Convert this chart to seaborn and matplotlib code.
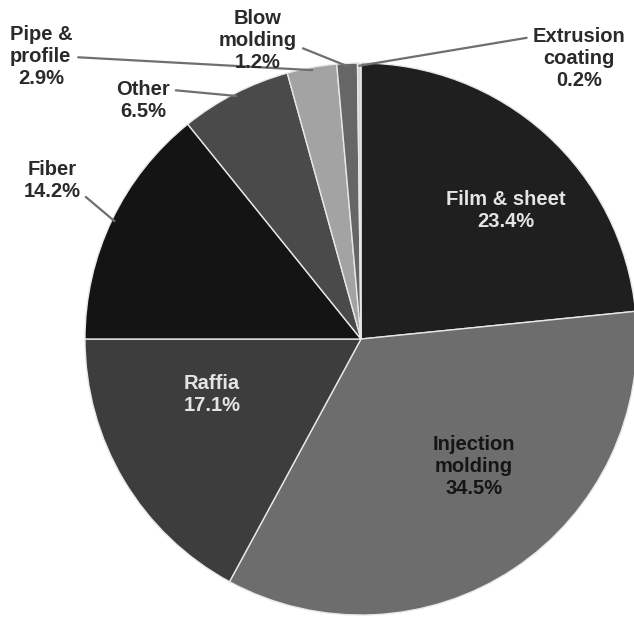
import matplotlib
matplotlib.use("Agg")
import numpy as np
import matplotlib.pyplot as plt
import seaborn as sns

# Données : parts de marché par application
categories = ["Film & sheet", "Injection\nmolding", "Raffia", "Fiber", "Other",
              "Pipe &\nprofile", "Blow\nmolding", "Extrusion\ncoating"]
shares = [23.4, 34.5, 17.1, 14.2, 6.5, 2.9, 1.2, 0.2]

sns.set_theme(style="white")
plt.rcParams['font.family'] = ['Liberation Sans', 'DejaVu Sans']

grays = ["#1f1f1f", "#6d6d6d", "#3d3d3d", "#141414", "#4a4a4a",
         "#a3a3a3", "#666666", "#d6d6d6"]

fig = plt.figure(figsize=(6.34, 6.24), dpi=100)
ax = fig.add_axes([0.134, 0.0144, 0.8707, 0.8846])

wedges, _ = ax.pie(shares, colors=grays, startangle=90, counterclock=False,
                   wedgeprops=dict(edgecolor="#e8e8e8", linewidth=1))
ax.set_xlim(-1, 1)
ax.set_ylim(-1, 1)
ax.set_aspect("equal")
ax.axis("off")

# position du texte (coord. données), couleur, point de départ de la ligne
label_pos = [(0.525, 0.467), (0.41, -0.463), (-0.54, -0.2), (-1.12, 0.576),
             (-0.79, 0.866), (-1.16, 1.022), (-0.373, 1.08), (0.79, 1.015)]
label_col = ["#e4e4e4", "#151515", "#e4e4e4", "#2a2a2a", "#2a2a2a",
             "#2a2a2a", "#2a2a2a", "#2a2a2a"]
inside = [True, True, True, False, False, False, False, False]
relpos = [None, None, None, (1, 0.2), (1, 0.75), (1, 0.5), (1, 0.42), (0, 0.85)]

for i, w in enumerate(wedges):
    txt = f"{categories[i]}\n{shares[i]}%"
    if inside[i]:
        ax.text(*label_pos[i], txt, ha="center", va="center", fontsize=14.5,
                fontweight="bold", color=label_col[i], linespacing=1.2)
    else:
        mid = np.deg2rad((w.theta1 + w.theta2) / 2)
        ax.annotate(txt, xy=(0.99 * np.cos(mid), 0.99 * np.sin(mid)),
                    xytext=label_pos[i], ha="center", va="center",
                    fontsize=14.5, fontweight="bold", color=label_col[i],
                    linespacing=1.2, annotation_clip=False,
                    arrowprops=dict(arrowstyle="-", color="#6f6f6f", lw=1.6,
                                    relpos=relpos[i], shrinkA=2, shrinkB=0))

fig.savefig("out.png", dpi=100, facecolor="white")
